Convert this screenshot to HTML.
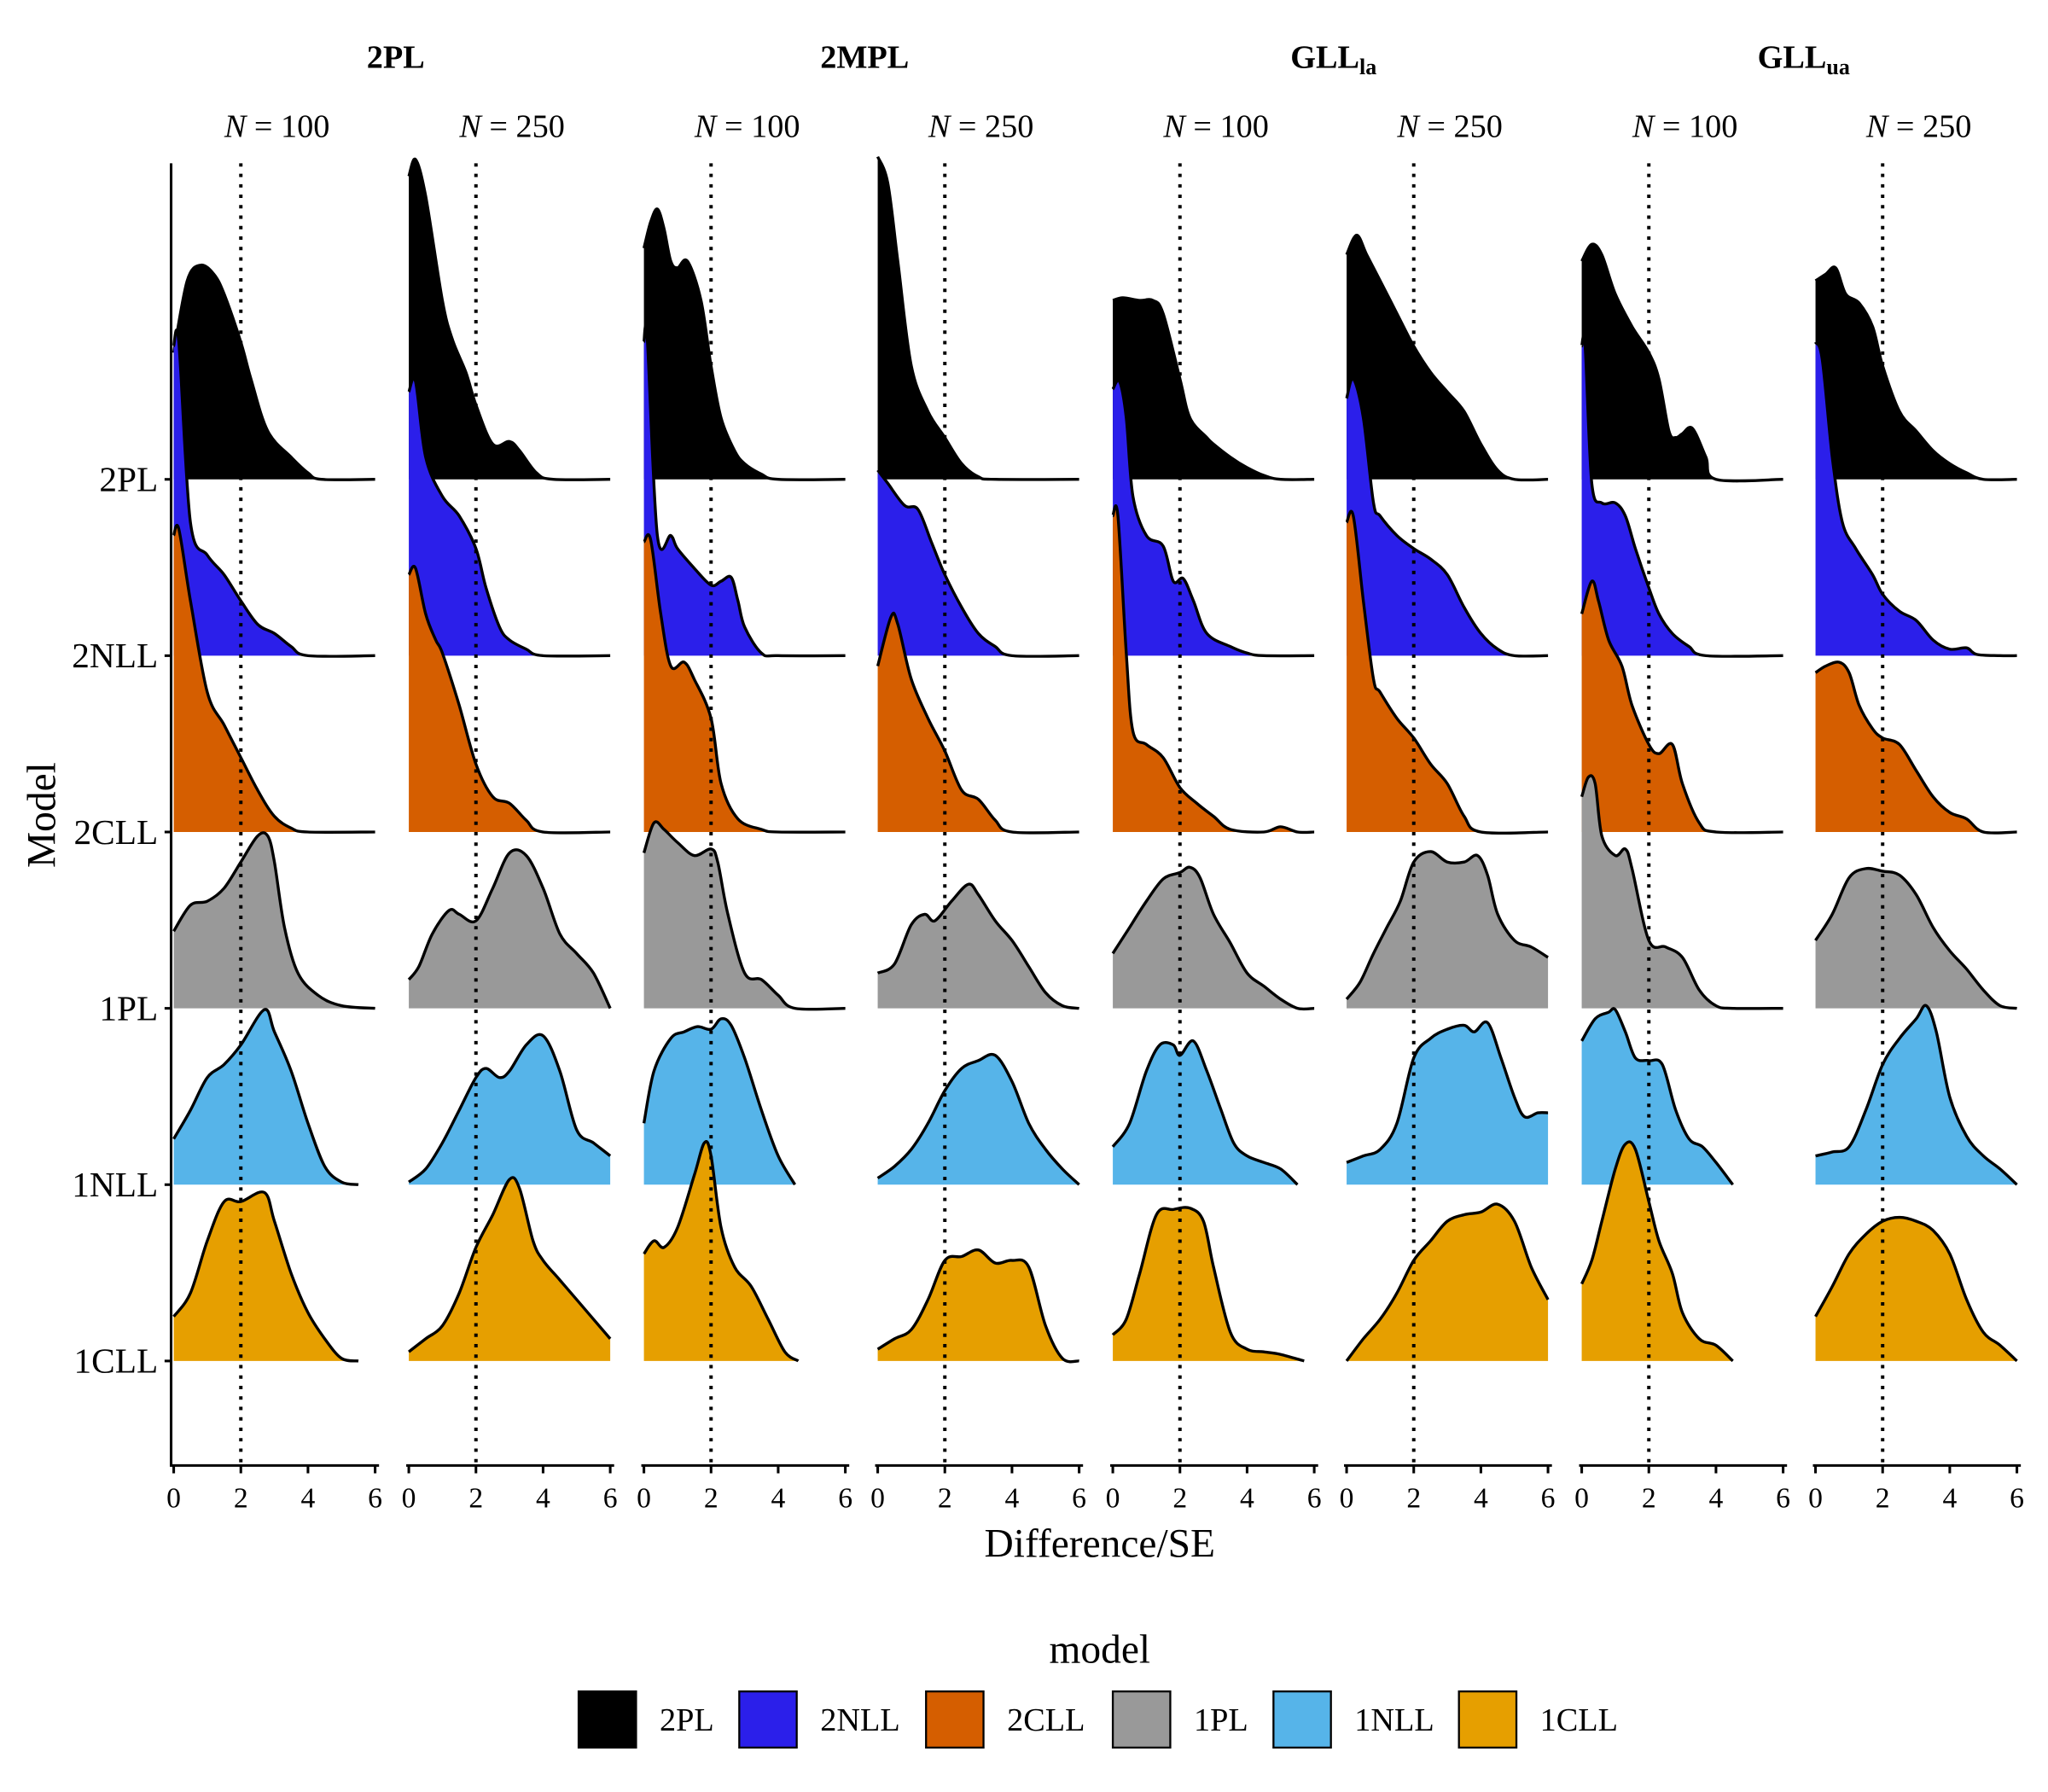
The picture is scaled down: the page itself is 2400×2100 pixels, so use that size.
<!DOCTYPE html>
<html><head><meta charset="utf-8"><style>
html,body{margin:0;padding:0;background:#fff}
svg{display:block}
text{font-family:"Liberation Serif",serif;fill:#000}
</style></head><body>
<svg id="s" width="2400" height="2100" viewBox="0 0 1568 1372" xmlns="http://www.w3.org/2000/svg">
<rect width="1568" height="1372" fill="#fff"/>
<g id="curves"></g>
<g id="fixed">
<line x1="131" y1="125" x2="131" y2="1123" stroke="#000" stroke-width="2"/>
<g font-size="27" text-anchor="end">
<text x="121" y="376">2PL</text><text x="121" y="511">2NLL</text><text x="121" y="646">2CLL</text>
<text x="121" y="781">1PL</text><text x="121" y="916">1NLL</text><text x="121" y="1051">1CLL</text>
</g>
<g stroke="#000" stroke-width="2">
<line x1="126" y1="367" x2="131" y2="367"/><line x1="126" y1="502" x2="131" y2="502"/><line x1="126" y1="637" x2="131" y2="637"/>
<line x1="126" y1="772" x2="131" y2="772"/><line x1="126" y1="907" x2="131" y2="907"/><line x1="126" y1="1042" x2="131" y2="1042"/>
</g>
<text x="42" y="624" font-size="31" text-anchor="middle" transform="rotate(-90 42 624)">Model</text>
<text x="842" y="1192" font-size="31" text-anchor="middle">Difference/SE</text>
<g font-size="25" font-weight="bold" text-anchor="middle">
<text x="303" y="52">2PL</text><text x="662" y="52">2MPL</text>
<text x="1021" y="52">GLL<tspan font-size="17" dy="5">la</tspan></text>
<text x="1381" y="52">GLL<tspan font-size="17" dy="5">ua</tspan></text>
</g>
<text x="842" y="1273" font-size="31" text-anchor="middle">model</text>
<g stroke="#000" stroke-width="1.5">
<rect x="443" y="1295" width="44" height="43" fill="#000"/>
<rect x="566" y="1295" width="44" height="43" fill="#2B1FEA"/>
<rect x="709" y="1295" width="44" height="43" fill="#D55E00"/>
<rect x="852" y="1295" width="44" height="43" fill="#999999"/>
<rect x="975" y="1295" width="44" height="43" fill="#56B4E9"/>
<rect x="1117" y="1295" width="44" height="43" fill="#E69F00"/>
</g>
<g font-size="25">
<text x="505" y="1325">2PL</text><text x="628" y="1325">2NLL</text><text x="771" y="1325">2CLL</text>
<text x="914" y="1325">1PL</text><text x="1037" y="1325">1NLL</text><text x="1179" y="1325">1CLL</text>
</g>
</g>
</svg>
<script>
var U=25.7, starts=[133,313,493,672,852,1031,1211,1390];
var bases=[367,502,637,772,907,1042];
var cols=["#000000","#2B1FEA","#D55E00","#999999","#56B4E9","#E69F00"];
var D=[
[[0,270,0.4,215,0.8,203,1.2,210,1.5,225,2,262,2.3,290,2.8,330,3.5,350,4,362,4.4,367,6,367],
 [0,265,0.15,262,0.5,400,1,425,1.5,440,2,460,2.5,478,3,485,3.5,495,4,502,6,502],
 [0,410,0.15,405,0.5,460,1,530,1.5,555,2,580,2.5,605,3,625,3.5,634,4,637,6,637],
 [0,713,0.5,693,1,690,1.5,680,2,660,2.5,640,2.8,640,3,660,3.3,710,3.7,745,4.3,762,5,770,6,772],
 [0,872,0.5,850,1,825,1.5,815,2,800,2.7,773,3,790,3.5,820,4,860,4.5,893,5,905,5.5,907],
 [0,1008,0.5,990,1,950,1.5,920,2,920,2.7,913,3,935,3.5,975,4,1005,4.5,1025,5,1040,5.5,1042]],
[[0,135,0.2,122,0.5,150,1,230,1.3,260,1.7,285,2,310,2.5,340,3,338,3.3,345,3.8,362,4.3,367,6,367],
 [0,300,0.2,292,0.5,350,1,380,1.5,395,2,420,2.3,450,2.7,480,3,490,3.5,497,4,502,6,502],
 [0,440,0.2,435,0.5,470,0.8,490,1,500,1.5,540,2,585,2.5,610,3,615,3.5,628,4,637,6,637],
 [0,750,0.3,740,0.7,715,1.2,697,1.5,700,2,705,2.5,680,3,653,3.5,655,4,680,4.5,715,5,730,5.5,745,6,772],
 [0,905,0.5,895,1,875,1.5,850,2,825,2.3,818,2.7,825,3,820,3.5,800,4,793,4.5,820,5,865,5.5,875,6,885],
 [0,1035,0.5,1025,1,1015,1.5,990,2,955,2.5,930,3,903,3.3,910,3.7,950,4,965,4.5,980,5,995,6,1025]],
[[0,190,0.2,170,0.4,160,0.6,175,0.8,200,1,205,1.3,200,1.7,230,2,280,2.3,320,2.7,345,3,355,3.5,363,4,367,6,367],
 [0,262,0.1,260,0.4,410,0.8,410,1,420,1.5,435,2,448,2.3,445,2.6,442,2.8,460,3,480,3.5,500,4,502,6,502],
 [0,415,0.2,413,0.5,470,0.8,510,1.2,507,1.5,520,2,550,2.3,600,2.8,627,3.5,635,4,637,6,637],
 [0,653,0.3,630,0.6,635,1,645,1.5,655,2,650,2.2,660,2.5,700,3,745,3.5,750,4,762,4.5,772,6,772],
 [0,860,0.3,820,0.8,795,1.2,790,1.6,786,2,788,2.3,780,2.6,785,3,810,3.5,850,4,885,4.5,907],
 [0,960,0.3,950,0.6,955,1,940,1.5,900,1.8,875,2,885,2.3,940,2.7,970,3.2,985,3.7,1010,4.2,1035,4.6,1042]],
[[0,120,0.3,140,0.6,200,1,280,1.5,315,2,335,2.5,355,3,365,3.5,367,6,367],
 [0,360,0.3,370,0.8,387,1.2,390,1.6,415,2,440,2.5,465,3,485,3.5,495,4,502,6,502],
 [0,510,0.4,472,0.6,478,1,520,1.5,550,2,575,2.5,605,3,612,3.5,628,4,637,6,637],
 [0,745,0.5,738,1,708,1.4,700,1.7,705,2.2,690,2.7,677,3,685,3.5,705,4,720,4.5,740,5,760,5.5,770,6,772],
 [0,902,0.5,893,1,880,1.5,860,2,835,2.5,818,3,812,3.5,808,4,828,4.5,860,5,880,5.5,895,6,907],
 [0,1033,0.5,1025,1,1018,1.5,995,2,965,2.5,962,3,957,3.5,967,4,965,4.5,970,5,1015,5.5,1040,6,1042]],
[[0,230,0.3,228,0.8,230,1.2,230,1.5,240,2,290,2.3,320,2.8,335,3,340,3.5,350,4,358,4.5,364,5,367,6,367],
 [0,298,0.2,292,0.4,320,0.6,380,1,410,1.5,418,1.8,445,2.1,443,2.4,460,2.8,485,3.5,495,4,500,4.5,502,6,502],
 [0,395,0.15,395,0.4,500,0.6,560,1,570,1.5,580,2,603,2.5,615,3,625,3.5,635,4.5,637,5,633,5.5,637,6,637],
 [0,730,0.5,710,1,690,1.5,673,2,668,2.3,664,2.6,672,3,700,3.5,722,4,745,4.5,755,5,765,5.5,772,6,772],
 [0,878,0.5,860,1,820,1.4,800,1.8,800,2,808,2.4,797,2.8,820,3.2,848,3.6,875,4,885,4.5,890,5,895,5.5,907],
 [0,1022,0.4,1010,0.8,975,1.3,930,1.8,926,2.3,925,2.7,935,3,970,3.5,1020,4,1033,4.5,1035,5,1037,5.7,1042]],
[[0,195,0.3,180,0.6,195,1,215,1.5,240,2,265,2.5,285,3,300,3.5,315,4,340,4.5,360,5,367,6,367],
 [0,305,0.2,290,0.5,320,0.8,385,1,395,1.5,410,2,420,2.5,428,3,440,3.5,465,4,485,4.5,497,5,502,6,502],
 [0,400,0.2,395,0.5,460,0.8,520,1,530,1.5,550,2,565,2.5,585,3,600,3.5,625,4,637,6,637],
 [0,765,0.4,752,0.8,730,1.2,710,1.6,690,2,660,2.5,652,3,660,3.5,660,3.9,655,4.2,670,4.5,700,5,720,5.5,725,6,733],
 [0,890,0.5,885,1,880,1.5,860,2,810,2.5,795,3,788,3.5,785,3.8,790,4.2,783,4.6,810,5,840,5.3,855,5.7,852,6,852],
 [0,1042,0.5,1025,1,1010,1.5,990,2,965,2.5,950,3,935,3.5,930,4,928,4.5,922,5,935,5.5,970,6,995]],
[[0,200,0.3,187,0.6,195,1,225,1.5,250,2,270,2.3,290,2.6,330,2.8,335,3,332,3.3,328,3.7,350,4,367,6,367],
 [0,265,0.1,265,0.3,370,0.6,385,1,385,1.3,395,1.6,420,2,450,2.3,470,2.7,485,3.2,495,3.7,502,6,502],
 [0,470,0.3,445,0.5,460,0.8,490,1.2,510,1.5,540,2,570,2.3,577,2.7,570,3,600,3.5,630,4,637,6,637],
 [0,610,0.2,595,0.4,600,0.6,640,1,655,1.3,650,1.5,665,2,720,2.5,725,3,733,3.5,758,4,770,4.5,772,6,772],
 [0,797,0.4,780,0.8,775,1,773,1.3,790,1.6,810,2,812,2.4,815,2.8,850,3.2,872,3.6,878,4,890,4.5,907],
 [0,983,0.3,965,0.6,935,1,895,1.3,876,1.6,880,2,920,2.3,950,2.7,975,3,1005,3.5,1025,4,1030,4.5,1042]],
[[0,215,0.3,210,0.6,205,0.9,225,1.3,232,1.7,250,2,280,2.5,315,3,330,3.5,345,4,355,4.5,362,5,367,6,367],
 [0,262,0.2,275,0.5,350,0.8,400,1.2,420,1.7,440,2,455,2.5,468,3,475,3.5,490,4,497,4.5,496,4.8,501,5.5,502,6,502],
 [0,515,0.3,510,0.7,507,1,515,1.3,540,1.7,558,2,565,2.5,570,3,590,3.5,610,4,622,4.5,627,5,637,6,637],
 [0,720,0.5,700,1,672,1.5,665,2,667,2.5,670,3,685,3.5,710,4,728,4.5,742,5,758,5.5,770,6,772],
 [0,885,0.5,882,1,878,1.5,850,2,815,2.5,795,3,780,3.3,770,3.6,790,4,840,4.5,870,5,885,5.5,895,6,907],
 [0,1008,0.5,985,1,960,1.5,945,2,935,2.5,932,3,935,3.5,942,4,960,4.5,995,5,1020,5.5,1030,6,1042]]
];
function path(p){
  var d="M"+p[0][0].toFixed(1)+","+p[0][1].toFixed(1);
  for(var i=0;i<p.length-1;i++){
    var p0=p[i>0?i-1:i],p1=p[i],p2=p[i+1],p3=p[i+2<p.length?i+2:i+1];
    var c1x=p1[0]+(p2[0]-p0[0])/6,c1y=p1[1]+(p2[1]-p0[1])/6;
    var c2x=p2[0]-(p3[0]-p1[0])/6,c2y=p2[1]-(p3[1]-p1[1])/6;
    d+=" C"+c1x.toFixed(1)+","+c1y.toFixed(1)+" "+c2x.toFixed(1)+","+c2y.toFixed(1)+" "+p2[0].toFixed(1)+","+p2[1].toFixed(1);
  }
  return d;
}
var h="";
for(var pi=0;pi<8;pi++){
  var x0=starts[pi];
  for(var r=0;r<6;r++){
    var a=D[pi][r],b=bases[r],pts=[];
    for(var k=0;k<a.length;k+=2){pts.push([x0+a[k]*U,Math.min(a[k+1],b)]);}
    var d=path(pts);
    var first=pts[0],last=pts[pts.length-1];
    h+='<path d="'+d+' L'+last[0].toFixed(1)+','+b+' L'+first[0].toFixed(1)+','+b+' Z" fill="'+cols[r]+'"/>';
    h+='<path d="'+d+'" fill="none" stroke="#000" stroke-width="2.2" stroke-linejoin="round"/>';
  }
  var x2=x0+2*U;
  h+='<line x1="'+x2+'" y1="125" x2="'+x2+'" y2="1122" stroke="#000" stroke-width="2.6" stroke-dasharray="2.6,5.4"/>';
  h+='<line x1="'+(x0-2)+'" y1="1122" x2="'+(x0+6*U+3)+'" y2="1122" stroke="#000" stroke-width="2"/>';
  for(var t=0;t<=6;t+=2){
    var tx=x0+t*U;
    h+='<line x1="'+tx+'" y1="1122" x2="'+tx+'" y2="1128" stroke="#000" stroke-width="2"/>';
    h+='<text x="'+tx+'" y="1154" font-size="22" text-anchor="middle">'+t+'</text>';
  }
  var nx=x0+3*U+2;
  h+='<text x="'+nx+'" y="105" font-size="25" text-anchor="middle"><tspan font-style="italic">N</tspan> = '+(pi%2?250:100)+'</text>';
}
document.getElementById("curves").innerHTML=h;
</script>
</body></html>
